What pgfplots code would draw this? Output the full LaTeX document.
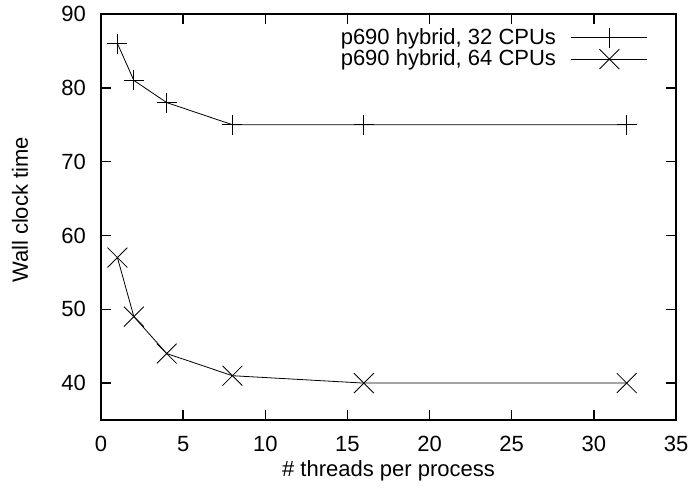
\documentclass[border=0pt]{standalone}
\usepackage{fontspec}
\setmainfont{Liberation Sans}
\usepackage{pgfplots}
\pgfplotsset{compat=1.18}
\begin{document}
\fontsize{22pt}{26pt}\selectfont
\begin{tikzpicture}
\begin{axis}[
  scale only axis,
  width=575pt, height=406pt,
  xmin=0, xmax=35, ymin=35, ymax=90,
  xtick={0,5,...,35}, ytick={40,50,...,90},
  tick pos=both, tick align=inside,
  major tick length=10pt,
  every tick/.style={black, line width=1.4pt},
  axis line style={line width=1.8pt},
  /pgf/number format/assume math mode=true,
  ticklabel style={font=\fontsize{22pt}{26pt}\selectfont, inner sep=0pt},
  xticklabel shift=16pt,
  yticklabel shift=15pt,
  xlabel={\# threads per process},
  ylabel={Wall clock time},
  xlabel style={at={(axis description cs:0.5,-0.1400)}, anchor=base, inner sep=0pt},
  ylabel style={at={(axis description cs:-0.1409,0.5172)}, anchor=center, inner sep=0pt},
  label style={font=\fontsize{22pt}{26pt}\selectfont},
  legend style={at={(1,1)}, anchor=north east, xshift=-28pt, yshift=-13.5pt,
    draw=none, fill=none, inner sep=0pt, row sep=1.5pt, column sep=15pt,
    nodes={inner sep=0pt}, font=\fontsize{22pt}{26pt}\selectfont},
  legend cell align=right,
  legend plot pos=right,
  legend image code/.code={\draw[mark repeat=2,mark phase=2,#1] plot coordinates {(0pt,0pt) (38pt,0pt) (76pt,0pt)};},
]
\addplot[black, line width=0.8pt, mark=+, mark size=10pt, mark options={line width=0.8pt}]
  coordinates {(1,86) (2,81) (4,78) (8,75) (16,75) (32,75)};
\addlegendentry{p690 hybrid, 32 CPUs}
\addplot[black, line width=0.8pt, mark=x, mark size=14pt, mark options={line width=0.8pt}]
  coordinates {(1,57) (2,49) (4,44) (8,41) (16,40) (32,40)};
\addlegendentry{p690 hybrid, 64 CPUs}
\end{axis}
\pgfresetboundingbox
\path[use as bounding box] (current axis.south west) ++(-101pt,-69pt) rectangle ++(695pt,489pt);
\end{tikzpicture}
\end{document}
